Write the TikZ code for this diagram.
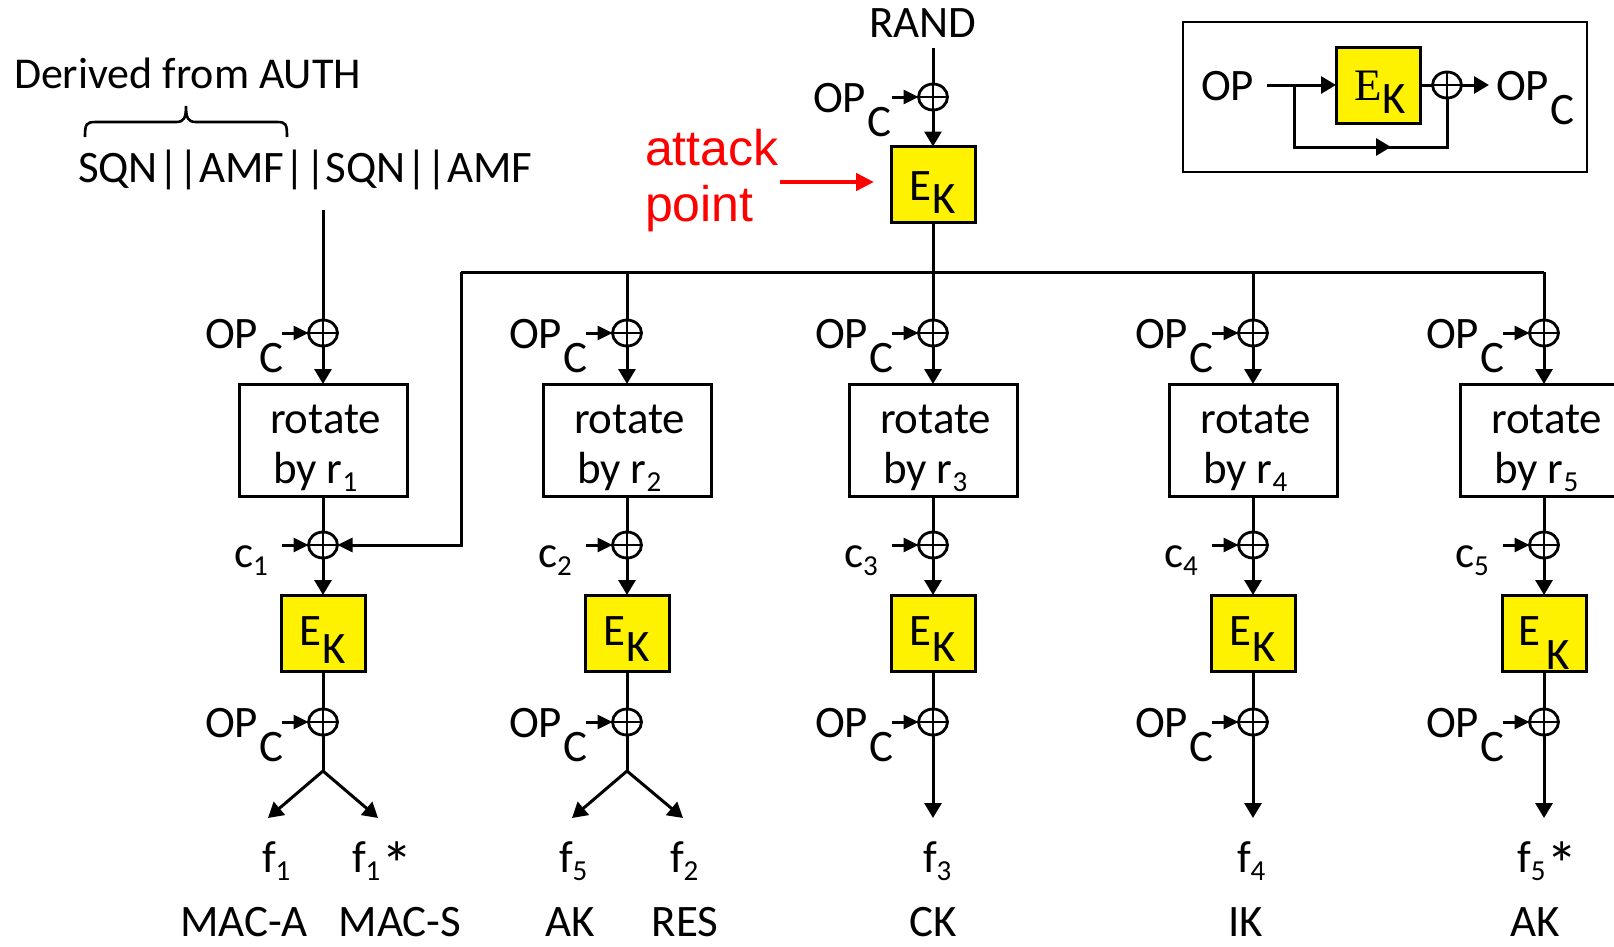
\documentclass[tikz,border=0pt]{standalone}
\usepackage{fontspec}
\setmainfont{Carlito}
\newfontfamily\arialf{Liberation Sans}
\newfontfamily\timesf{Liberation Serif}
\usetikzlibrary{arrows.meta,shapes.geometric}
\newcommand{\opcText}{OP\kern1pt\raisebox{-24pt}{C}}
\newcommand{\EKtext}[2]{E\kern#2\raisebox{-#1}{K}}
\newcommand{\sbs}[1]{\raisebox{-8pt}{\fontsize{29}{32}\selectfont #1}}
\newcommand{\bigstar}{\kern1pt\raisebox{-14pt}{\scalebox{1.4}{*}}}
\begin{document}
\begin{tikzpicture}[x=1pt,y=-1pt,
  every node/.style={font=\fontsize{45}{52}\selectfont, inner sep=0pt, outer sep=0pt},
  ln/.style={line width=3pt},
  arr/.style={ln, -{Triangle[length=15pt,width=17pt]}},
  inarr/.style={ln, -{Triangle[length=15pt,width=14pt]}},
  redarr/.style={draw=red, line width=4.5pt, -{Triangle[length=18pt,width=17pt]}},
  xor/.style={draw, line width=2.8pt, ellipse, minimum width=29pt, minimum height=26pt,
    path picture={\draw[line width=2.8pt] (path picture bounding box.north) -- (path picture bounding box.south)
      (path picture bounding box.west) -- (path picture bounding box.east);}},
  rotbox/.style={draw, line width=3pt, minimum width=168pt, minimum height=112pt},
  ekbox/.style={draw, line width=3pt, fill=yellow, minimum width=84pt, minimum height=76pt},
  txt/.style={anchor=base west},
  ctxt/.style={anchor=base}
]
\useasboundingbox (0,0) rectangle (1614,946);
\clip (0,0) rectangle (1614,946);

% ---------- top-left input ----------
\node[txt, font=\fontsize{44}{50}\selectfont] (der) at (14,88) {Derived from AUTH};
\node[txt] (sqn) at (78,182) {SQN||AMF||SQN||AMF};
\draw[line width=2.6pt] (85,137) .. controls (85,124) and (86,122) .. (96,122) -- (176,122)
  .. controls (184,122) and (186,118) .. (186,106)
  .. controls (186,118) and (188,122) .. (196,122) -- (277,122)
  .. controls (286,122) and (287,124) .. (287,137);
\coordinate (sqnout) at (323,210);

% ---------- top centre ----------
\node[ctxt] (rand) at (923,37) {RAND};
\coordinate (randout) at (933,48);
\node[xor] (x0) at (933,97) {};
\node[txt] (opc0) at (813,112) {\opcText};
\coordinate (opc0out) at (892,97);
\node[ekbox] (ek0) at (933,184.5) {};
\node[ctxt] (ek0t) at (933,200) {\EKtext{13pt}{1pt}};
\draw[ln] (randout) -- (x0.north);
\draw[inarr] (opc0out) -- (x0.west);
\draw[arr] (x0.south) -- (ek0.north);

% attack point
\node[txt, font=\arialf\fontsize{50}{56}\selectfont, text=red] (att) at (645,165) {attack};
\node[txt, font=\arialf\fontsize{50}{56}\selectfont, text=red] (pnt) at (645,221) {point};
\coordinate (atk1) at (780,182);
\coordinate (atk2) at (874,182);
\draw[redarr] (atk1) -- (atk2);

% ---------- inset ----------
\node[draw, line width=2.8pt, minimum width=404pt, minimum height=150pt] (inset) at (1385,97) {};
\node[ekbox] (iek) at (1378,85) {};
\node[ctxt] (iekt) at (1380,100) {{\timesf E}\raisebox{-13pt}{K}};
\node[xor] (ix) at (1447,85) {};
\node[txt] (iop) at (1201,100) {OP};
\node[txt] (iopc) at (1496,100) {\opcText};
\coordinate (iopout) at (1267,85);
\coordinate (ibr) at (1294,85);
\coordinate (ibot1) at (1294,147);
\coordinate (ibot2) at (1447,147);
\coordinate (imid) at (1391,147);
\coordinate (iout) at (1489,85);
\draw[arr] (iopout) -- (iek.west);
\draw[ln] (ibr) -- (ibot1) -- (ibot2) -- (ix.south);
\draw[arr] (ibot1) -- (imid);
\draw[ln] (iek.east) -- (ix.west);
\draw[arr] (ix.east) -- (iout);

% ---------- bus ----------
\coordinate (busL) at (461,272);
\coordinate (busR) at (1544,272);
\coordinate (bus3) at (933,272);
\draw[ln] (ek0.south) -- (bus3);
\draw[ln] (busL) -- (busR);

% ---------- columns ----------
\foreach \i/\X/\kd/\kg in {1/323/18pt/1pt, 2/627/16pt/1pt, 3/933/16pt/1pt, 4/1253/16pt/1pt, 5/1544/24pt/6pt}{
  \node[xor] (xt\i) at (\X,333) {};
  \node[rotbox] (rb\i) at (\X,440) {};
  \node[txt] (rt\i) at (\X-53,433) {rotate};
  \node[txt] (rby\i) at (\X-50,483) {by r\sbs{\i}};
  \node[xor] (xc\i) at (\X,545) {};
  \node[ekbox] (ek\i) at (\X,633) {};
  \node[ctxt] (ekt\i) at (\X,645) {\EKtext{\kd}{\kg}};
  \node[xor] (xb\i) at (\X,722) {};
  \node[txt] (opt\i) at (\X-118,348) {\opcText};
  \node[txt] (opb\i) at (\X-118,737) {\opcText};
  \node[txt] (cl\i) at (\X-89,567) {c\sbs{\i}};
  \coordinate (opti\i) at (\X-41,333);
  \coordinate (ci\i) at (\X-41,545);
  \coordinate (opbi\i) at (\X-41,722);
  \draw[inarr] (opti\i) -- (xt\i.west);
  \draw[arr] (xt\i.south) -- (rb\i.north);
  \draw[ln] (rb\i.south) -- (xc\i.north);
  \draw[inarr] (ci\i) -- (xc\i.west);
  \draw[arr] (xc\i.south) -- (ek\i.north);
  \draw[ln] (ek\i.south) -- (xb\i.north);
  \draw[inarr] (opbi\i) -- (xb\i.west);
}
% inputs to top xors
\draw[ln] (sqnout) -- (xt1.north);
\foreach \i in {2,3,4,5}{
  \draw[ln] (xt\i.north |- busL) -- (xt\i.north);
}
\draw[inarr] (busL) -- (busL |- xc1) -- (xc1.east);

% ---------- outputs ----------
\coordinate (fk1) at (323,771);
\coordinate (fa1) at (268,818);
\coordinate (fb1) at (378,818);
\draw[ln] (xb1.south) -- (fk1);
\draw[arr] (fk1) -- (fa1);
\draw[arr] (fk1) -- (fb1);
\coordinate (fk2) at (627,771);
\coordinate (fa2) at (572,818);
\coordinate (fb2) at (683,818);
\draw[ln] (xb2.south) -- (fk2);
\draw[arr] (fk2) -- (fa2);
\draw[arr] (fk2) -- (fb2);
\foreach \i/\X in {3/933, 4/1253, 5/1544}{
  \coordinate (fo\i) at (\X,818);
  \draw[arr] (xb\i.south) -- (fo\i);
}

\node[txt] (f1a) at (262,872) {f\sbs{1}};
\node[txt] (f1b) at (352,872) {f\sbs{1}\bigstar};
\node[txt] (f2a) at (559,872) {f\sbs{5}};
\node[txt] (f2b) at (670,872) {f\sbs{2}};
\node[txt] (f3) at (923,872) {f\sbs{3}};
\node[txt] (f4) at (1237,872) {f\sbs{4}};
\node[txt] (f5) at (1517,872) {f\sbs{5}\bigstar};

\node[ctxt] (o1a) at (244,936) {MAC-A};
\node[ctxt] (o1b) at (400,936) {MAC-S};
\node[ctxt] (o2a) at (570,936) {AK};
\node[ctxt] (o2b) at (685,936) {RES};
\node[ctxt] (o3) at (933,936) {CK};
\node[ctxt] (o4) at (1246,936) {IK};
\node[ctxt] (o5) at (1535,936) {AK};
\end{tikzpicture}
\end{document}
